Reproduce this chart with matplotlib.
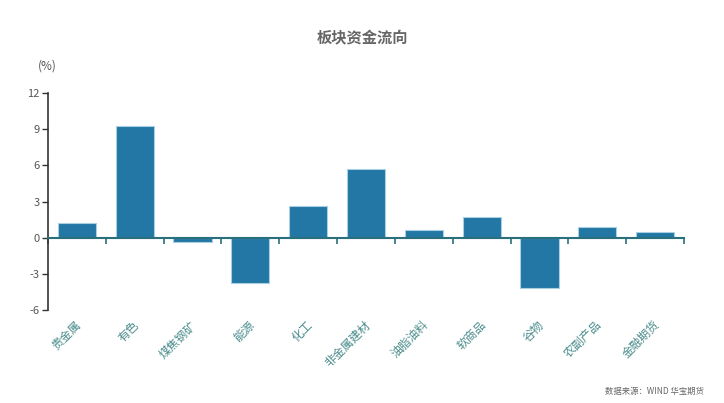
import matplotlib
matplotlib.use('Agg')
import matplotlib.pyplot as plt
import matplotlib.transforms as mtransforms

plt.rcParams['font.family'] = ['Noto Sans CJK SC', 'DejaVu Sans']

# sector fund flow (%)
sectors = ["贵金属", "有色", "煤焦钢矿", "能源", "化工", "非金属建材",
           "油脂油料", "软商品", "谷物", "农副产品", "金融期货"]
flows = [1.25, 9.25, -0.4, -3.75, 2.65, 5.7, 0.6, 1.75, -4.15, 0.85, 0.45]
y_ticks = [-6, -3, 0, 3, 6, 9, 12]

bar_color = "#2277a4"
axis_teal = "#2a6f7c"
label_teal = "#4b8c8c"

fig = plt.figure(figsize=(7.24, 4.03), dpi=100)
ax = fig.add_axes([0.0663, 0.2308, 0.8785, 0.5384])

x = list(range(len(sectors)))
ax.bar(x, flows, width=0.66, color=bar_color, edgecolor="#a8cfe2", linewidth=0.8, zorder=2)

ax.set_xlim(-0.5, len(sectors) - 0.5)
ax.set_ylim(-6, 12)

for s in ['top', 'right']:
    ax.spines[s].set_visible(False)
ax.spines['left'].set_color('#333333')
ax.spines['left'].set_linewidth(1.2)
ax.spines['bottom'].set_position(('data', 0))
ax.spines['bottom'].set_color(axis_teal)
ax.spines['bottom'].set_linewidth(1.5)
ax.spines['bottom'].set_zorder(3)

ax.set_yticks(y_ticks)
ax.set_yticklabels([str(v) for v in y_ticks])
ax.tick_params(axis='y', colors='#333333', labelcolor='#555555', labelsize=8,
               length=4, width=1, direction='out', pad=2)

ax.set_xticks([i - 0.5 for i in range(len(sectors) + 1)])
ax.set_xticklabels([])
ax.tick_params(axis='x', colors=axis_teal, length=4, width=1.2, direction='out')

trans = mtransforms.blended_transform_factory(ax.transData, fig.transFigure)
offset = mtransforms.ScaledTranslation(7 / 100, 0, fig.dpi_scale_trans)
for i, name in enumerate(sectors):
    ax.text(i, 0.21, name, transform=trans + offset, rotation=45,
            ha='right', va='top', fontsize=8.5, color=label_teal)

fig.text(0.5, 0.905, "板块资金流向", ha='center', va='center',
         fontsize=11, fontweight='bold', color='#666666')
fig.text(0.065, 0.835, "(%)", ha='center', va='center', fontsize=8.5, color='#555555')
fig.text(0.972, 0.017, "数据来源：WIND 华宝期货", ha='right', va='bottom',
         fontsize=6, color='#666666')

fig.savefig("out.png", dpi=100)
